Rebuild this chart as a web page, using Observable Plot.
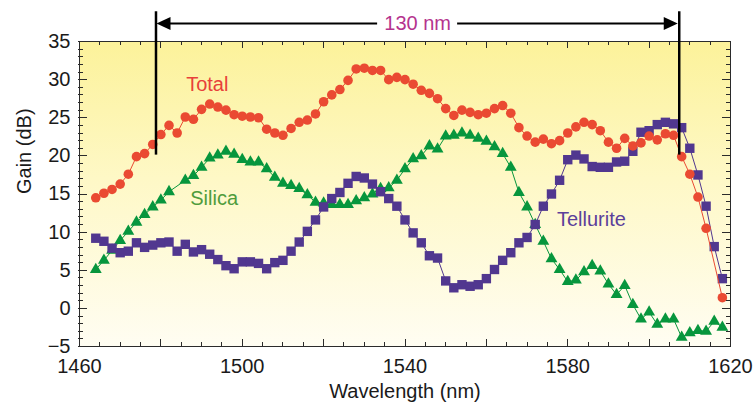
<!DOCTYPE html>
<html>
<head>
<meta charset="utf-8">
<script src="https://cdn.jsdelivr.net/npm/d3@7"></script>
<script src="https://cdn.jsdelivr.net/npm/@observablehq/plot@0.6"></script>
<style>
  html, body { margin: 0; padding: 0; background: #ffffff; }
  #chart svg { display: block; }
</style>
</head>
<body>
<div id="chart"></div>
<script>
// ---------- data ----------
const totalWl = [1464,1466,1468,1470,1472,1474,1476,1478,1480,1482,1484,1486,1488,1490,1492,1494,1496,1498,1500,1502,1504,1506,1508,1510,1512,1514,1516,1518,1520,1522,1524,1526,1528,1530,1532,1534,1536,1538,1540,1542,1544,1546,1548,1550,1552,1554,1556,1558,1560,1562,1564,1566,1568,1570,1572,1574,1576,1578,1580,1582,1584,1586,1588,1590,1592,1594,1596,1598,1600,1602,1604,1606,1608,1610,1612,1614,1618];
const totalGain = [14.5,15.1,15.6,16.3,17.6,19.9,20.3,21.5,22.8,24.0,23.0,25.1,24.8,26.1,26.8,26.4,26.0,25.4,25.2,25.1,25.0,23.5,23.0,22.7,23.6,24.4,24.7,25.5,27.1,28.0,28.7,29.9,31.4,31.5,31.2,31.2,30.0,30.3,30.0,29.4,28.6,28.2,27.5,26.2,25.3,26.0,25.7,25.4,25.6,26.2,26.6,25.6,23.7,22.6,21.8,22.2,21.6,22.0,23.0,23.8,24.4,24.1,23.3,21.8,21.0,22.3,21.3,21.7,22.6,22.1,22.9,22.7,19.9,17.6,14.6,10.5,1.4];

const silicaWl = [1464,1466,1468,1470,1472,1474,1476,1478,1480,1482,1486,1488,1490,1492,1494,1496,1498,1500,1502,1504,1506,1508,1510,1512,1514,1516,1518,1520,1522,1524,1526,1528,1530,1532,1534,1536,1538,1540,1542,1544,1546,1548,1550,1552,1554,1556,1558,1560,1562,1564,1566,1568,1570,1572,1574,1576,1578,1580,1582,1584,1586,1588,1590,1592,1594,1596,1598,1600,1602,1604,1606,1608,1610,1612,1614,1616,1618];
const silicaGain = [5.1,6.3,7.6,8.9,10.1,11.3,12.3,13.3,14.2,15.3,16.8,17.4,18.5,19.7,20.1,20.6,20.2,19.5,19.2,19.2,18.3,17.2,16.4,16.1,15.7,14.9,13.9,13.8,13.6,13.6,13.6,14.1,14.5,15.0,15.7,15.8,16.8,18.3,19.6,20.0,21.3,20.9,22.6,22.7,23.0,22.7,22.3,21.9,21.2,20.3,18.5,15.2,13.3,11.0,8.8,6.5,5.1,3.5,3.7,4.8,5.6,4.9,3.2,1.8,3.0,0.5,-1.4,-0.5,-2.1,-1.4,-1.4,-3.8,-3.2,-2.9,-3.0,-1.7,-2.5];

const telluriteWl = [1464,1466,1468,1470,1472,1474,1476,1478,1480,1482,1484,1486,1488,1490,1492,1494,1496,1498,1500,1502,1504,1506,1508,1510,1512,1514,1516,1518,1520,1522,1524,1526,1528,1530,1532,1534,1536,1538,1540,1542,1544,1546,1548,1550,1552,1554,1556,1558,1560,1562,1564,1566,1568,1570,1572,1574,1576,1578,1580,1582,1584,1586,1588,1590,1592,1594,1596,1598,1600,1602,1604,1606,1608,1610,1612,1614,1616,1618];
const telluriteGain = [9.2,8.8,7.9,7.3,7.5,8.6,8.0,8.3,8.6,8.7,7.5,8.4,7.4,7.7,7.1,6.4,5.6,5.2,6.1,6.1,5.9,5.2,6.0,6.3,7.5,8.7,10.1,11.6,13.3,14.4,15.2,16.4,17.3,17.1,16.3,15.3,14.4,13.4,11.6,9.9,8.6,6.9,6.6,3.6,2.7,3.1,2.9,3.1,3.9,5.1,6.3,7.3,8.6,9.3,11.0,13.4,15.0,16.8,19.5,20.1,19.6,18.6,18.5,18.5,19.2,19.3,20.6,23.1,23.3,24.1,24.4,24.2,23.7,21.0,17.5,13.4,8.1,3.9];

// tick labels and tick positions
const xTickLabels = [1460, 1500, 1540, 1580, 1620];
const yTickLabels = [-5, 0, 5, 10, 15, 20, 25, 30, 35];
const xMinorTicks = [1460,1465,1470,1475,1480,1485,1490,1495,1500,1505,1510,1515,1520,1525,1530,1535,1540,1545,1550,1555,1560,1565,1570,1575,1580,1585,1590,1595,1600,1605,1610,1615,1620];
const xMajorTicks = [1460,1480,1500,1520,1540,1560,1580,1600,1620];
const yMinorTicks = [-5,-4,-3,-2,-1,0,1,2,3,4,5,6,7,8,9,10,11,12,13,14,15,16,17,18,19,20,21,22,23,24,25,26,27,28,29,30,31,32,33,34,35];
const yMajorTicks = [-5,0,5,10,15,20,25,30,35];

// series labels
const seriesLabels = ["Total", "Silica", "Tellurite"];
const seriesLabelWl = [1491.4, 1493.1, 1585.8];
const seriesLabelGain = [29.3, 14.4, 11.6];

// 130 nm span annotation
const spanEdges = [1478.8, 1607.4];
const spanLineBottom = 20.1;
const spanLineTop = 38.9;
const spanArrowGain = 37.3;
const spanLabel = "130 nm";

// ---------- styling ----------
const FONT = "'Liberation Sans', Arial, Helvetica, sans-serif";
const cTotal = "#ea4a32", cSilica = "#07963d", cTell = "#51378f";
const cTotalText = "#e8403a", cSilicaText = "#4f9c3c", cTellText = "#5b3f9a", cSpan = "#b5338e";

const toRows = (wl, g) => wl.map((w, i) => ({w, g: g[i]}));
const totalRows = toRows(totalWl, totalGain);
const silicaRows = toRows(silicaWl, silicaGain);
const tellRows = toRows(telluriteWl, telluriteGain);
const labelRows = seriesLabels.map((t, i) => ({t, w: seriesLabelWl[i], g: seriesLabelGain[i]}));
const labelColors = [cTotalText, cSilicaText, cTellText];

function background(index, scales, values, dim) {
  const g = d3.create("svg:g");
  const defs = g.append("defs");
  const lg = defs.append("linearGradient").attr("id", "bgGrad")
    .attr("x1", 0).attr("y1", 0).attr("x2", 0).attr("y2", 1);
  lg.append("stop").attr("offset", "0%").attr("stop-color", "#fcf29a");
  lg.append("stop").attr("offset", "45%").attr("stop-color", "#fef8c6");
  lg.append("stop").attr("offset", "100%").attr("stop-color", "#fffdf2");
  g.append("rect")
    .attr("x", dim.marginLeft).attr("y", dim.marginTop)
    .attr("width", dim.width - dim.marginLeft - dim.marginRight)
    .attr("height", dim.height - dim.marginTop - dim.marginBottom)
    .attr("fill", "url(#bgGrad)");
  return g.node();
}

function frameTicks(index, scales, values, dim) {
  const sx = scales.x, sy = scales.y;
  const g = d3.create("svg:g").attr("stroke", "#2b2b2b").attr("stroke-width", 1);
  const top = dim.marginTop, bottom = dim.height - dim.marginBottom;
  const left = dim.marginLeft, right = dim.width - dim.marginRight;
  for (const t of xMinorTicks) {
    const L = xMajorTicks.includes(t) ? 7 : 4;
    const px = Math.round(sx(t)) + 0.5;
    g.append("line").attr("x1", px).attr("x2", px).attr("y1", bottom).attr("y2", bottom - L);
    g.append("line").attr("x1", px).attr("x2", px).attr("y1", top).attr("y2", top + L);
  }
  for (const t of yMinorTicks) {
    const L = yMajorTicks.includes(t) ? 8 : 4;
    const py = Math.round(sy(t)) + 0.5;
    g.append("line").attr("x1", left - 1).attr("x2", left + L).attr("y1", py).attr("y2", py);
    g.append("line").attr("x1", right + 1).attr("x2", right - L).attr("y1", py).attr("y2", py);
  }
  return g.node();
}

function spanArrow(index, scales) {
  const sx = scales.x, sy = scales.y;
  const g = d3.create("svg:g");
  const y0 = sy(spanArrowGain);
  const x1 = sx(spanEdges[0]), x2 = sx(spanEdges[1]);
  const xc = (x1 + x2) / 2;
  const gap = 40, head = 14, half = 6.5;
  g.append("line").attr("x1", x1 + head - 1).attr("x2", xc - gap)
    .attr("y1", y0).attr("y2", y0).attr("stroke", "#000").attr("stroke-width", 2);
  g.append("line").attr("x1", xc + gap).attr("x2", x2 - head + 1)
    .attr("y1", y0).attr("y2", y0).attr("stroke", "#000").attr("stroke-width", 2);
  g.append("path").attr("d", `M${x1 + 1},${y0}L${x1 + 1 + head},${y0 - half}L${x1 + 1 + head},${y0 + half}Z`).attr("fill", "#000");
  g.append("path").attr("d", `M${x2 - 1},${y0}L${x2 - 1 - head},${y0 - half}L${x2 - 1 - head},${y0 + half}Z`).attr("fill", "#000");
  return g.node();
}

const fmtY = d => d < 0 ? "\u2212" + Math.abs(d) : String(d);

const chart = Plot.plot({
  width: 756,
  height: 403,
  marginLeft: 79,
  marginRight: 26,
  marginTop: 41,
  marginBottom: 57,
  style: {fontFamily: FONT, fontSize: "20px", background: "#ffffff", color: "#1a1a1a"},
  x: {domain: [1460, 1620]},
  y: {domain: [-5, 35]},
  marks: [
    background,
    Plot.line(silicaRows, {x: "w", y: "g", stroke: cSilica, strokeWidth: 1}),
    Plot.dot(silicaRows, {x: "w", y: "g", symbol: "triangle", r: 4.4, fill: cSilica}),
    Plot.line(tellRows, {x: "w", y: "g", stroke: cTell, strokeWidth: 1}),
    Plot.dot(tellRows, {x: "w", y: "g", symbol: "square", r: 5.3, fill: cTell}),
    Plot.line(totalRows, {x: "w", y: "g", stroke: cTotal, strokeWidth: 1}),
    Plot.dot(totalRows, {x: "w", y: "g", symbol: "circle", r: 4.8, fill: cTotal}),
    frameTicks,
    Plot.frame({stroke: "#2b2b2b", strokeWidth: 1}),
    Plot.axisX({ticks: xTickLabels, tickSize: 0, tickPadding: 12, fontSize: 20, label: null, tickFormat: d => String(d)}),
    Plot.axisY({ticks: yTickLabels, tickSize: 0, tickPadding: 9, fontSize: 20, label: null, tickFormat: fmtY}),
    Plot.text(["Wavelength (nm)"], {frameAnchor: "bottom", lineAnchor: "middle", dy: 45, fontSize: 20, fill: "#1a1a1a"}),
    Plot.text(["Gain (dB)"], {frameAnchor: "left", lineAnchor: "middle", dx: -55, rotate: -90, fontSize: 20, fill: "#1a1a1a"}),
    Plot.text(labelRows, {x: "w", y: "g", text: "t", fontSize: 20, fill: (d, i) => labelColors[i]}),
    Plot.ruleX(spanEdges, {y1: spanLineBottom, y2: spanLineTop, stroke: "#000", strokeWidth: 2.5}),
    spanArrow,
    Plot.text([spanLabel], {x: [(spanEdges[0] + spanEdges[1]) / 2], y: [spanArrowGain], fontSize: 20, fill: cSpan})
  ]
});
document.getElementById("chart").appendChild(chart);
</script>
</body>
</html>
